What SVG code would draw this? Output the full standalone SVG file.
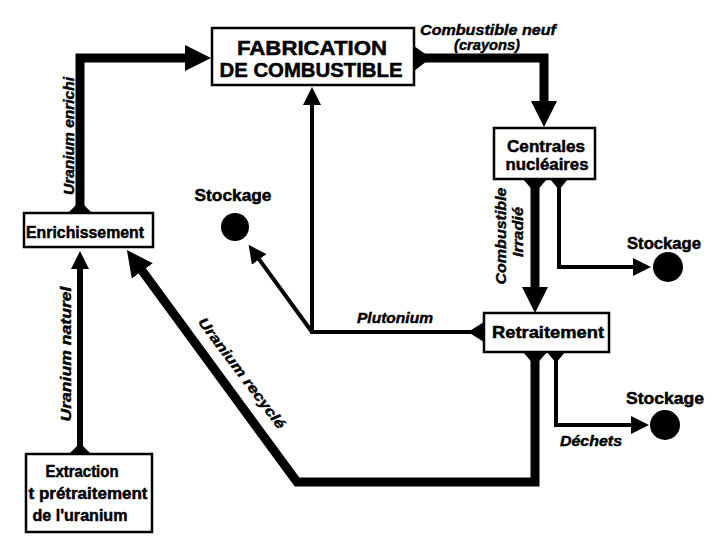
<svg xmlns="http://www.w3.org/2000/svg" width="712" height="539" viewBox="0 0 712 539">
<style>
.bx{fill:#fff;stroke:#000;stroke-width:2.5}
.ln{fill:none;stroke:#000;stroke-linejoin:miter}
.thick{stroke-width:9}
.mid{stroke-width:6}
.thin{stroke-width:4}
.fl{fill:#000}
.t{font-family:"Liberation Sans",Arial,sans-serif;font-weight:bold;fill:#000;stroke:#000;stroke-width:0.5}
.big{font-size:20px}
.nd{font-size:17px}
.lb{font-family:"Liberation Sans",Arial,sans-serif;font-weight:bold;font-style:italic;font-size:14px;fill:#000;stroke:#000;stroke-width:0.4}
.dot{fill:#000}
</style>
<defs>
<marker id="ab" viewBox="0 0 26 26" markerWidth="26" markerHeight="26" refX="1" refY="13" orient="auto" markerUnits="userSpaceOnUse"><path d="M0,0 L26,13 L0,26 z" fill="#000"/></marker>
<marker id="as" viewBox="0 0 18 18" markerWidth="18" markerHeight="18" refX="1" refY="9" orient="auto" markerUnits="userSpaceOnUse"><path d="M0,0 L18,9 L0,18 z" fill="#000"/></marker>
</defs>
<rect width="712" height="539" fill="#fff"/>
<g id="connectors">
<path class="ln thick" d="M80,213 V58 H186" marker-end="url(#ab)"/>
<path class="ln mid" d="M80,454 V268" marker-end="url(#as)"/>
<path class="ln thick" d="M414,58 H544 V102" marker-end="url(#ab)"/>
<path class="ln thick" d="M535,179 V288" marker-end="url(#ab)"/>
<path class="ln thin" d="M559,179 V267 H634" marker-end="url(#as)"/>
<path class="ln thin" d="M484,332 H312 V104" marker-end="url(#as)"/>
<path class="ln thin" d="M312,332 L258.6,258.6" marker-end="url(#as)"/>
<path class="ln thick" d="M535,352 V482 H297 L141.7,270.2" marker-end="url(#ab)"/>
<path class="ln thin" d="M556,352 V425 H632" marker-end="url(#as)"/>
<polygon class="fl" points="68,213 92,213 80,201"/>
<polygon class="fl" points="69,454 91,454 80,443"/>
<polygon class="fl" points="414,46 414,71 431,58"/>
<polygon class="fl" points="523,179 547,179 535,193"/>
<polygon class="fl" points="550,179 568,179 559,190"/>
<polygon class="fl" points="484,322 484,342 468,332"/>
<polygon class="fl" points="523,352 547,352 535,366"/>
<polygon class="fl" points="547,352 565,352 556,363"/>
<text class="lb" transform="translate(74,136) rotate(-90)" text-anchor="middle" textLength="118" lengthAdjust="spacingAndGlyphs">Uranium enrichi</text>
<text class="lb" transform="translate(71,354) rotate(-90)" text-anchor="middle" textLength="135" lengthAdjust="spacingAndGlyphs">Uranium naturel</text>
<text class="lb" x="488" y="35" text-anchor="middle" textLength="136" lengthAdjust="spacingAndGlyphs">Combustible neuf</text>
<text class="lb" x="487" y="50" text-anchor="middle" textLength="66" lengthAdjust="spacingAndGlyphs">(crayons)</text>
<text class="lb" transform="translate(506,236) rotate(-90)" text-anchor="middle" textLength="97" lengthAdjust="spacingAndGlyphs">Combustible</text>
<text class="lb" transform="translate(523,232) rotate(-90)" text-anchor="middle" textLength="50" lengthAdjust="spacingAndGlyphs">Irradié</text>
<text class="lb" x="395" y="323" text-anchor="middle" textLength="76" lengthAdjust="spacingAndGlyphs">Plutonium</text>
<text class="lb" transform="translate(238,376) rotate(53)" text-anchor="middle" textLength="135" lengthAdjust="spacingAndGlyphs">Uranium recyclé</text>
<text class="lb" x="591" y="446" text-anchor="middle" textLength="62" lengthAdjust="spacingAndGlyphs">Déchets</text>
</g>
<g id="fabrication">
<rect class="bx" x="212" y="28" width="202" height="57"/>
<text class="t big" x="312" y="55" text-anchor="middle" textLength="150" lengthAdjust="spacingAndGlyphs">FABRICATION</text>
<text class="t big" x="311" y="77" text-anchor="middle" textLength="183" lengthAdjust="spacingAndGlyphs">DE COMBUSTIBLE</text>
</g>
<g id="centrales">
<rect class="bx" x="494" y="128" width="101" height="51"/>
<text class="t nd" x="546" y="152" text-anchor="middle" textLength="78" lengthAdjust="spacingAndGlyphs">Centrales</text>
<text class="t nd" x="547" y="170" text-anchor="middle" textLength="83" lengthAdjust="spacingAndGlyphs">nucléaires</text>
</g>
<g id="retraitement">
<rect class="bx" x="484" y="313" width="125" height="39"/>
<text class="t nd" x="548" y="338" text-anchor="middle" textLength="112" lengthAdjust="spacingAndGlyphs">Retraitement</text>
</g>
<g id="enrichissement">
<rect class="bx" x="24" y="213" width="129" height="34"/>
<text class="t nd" x="85" y="238" text-anchor="middle" textLength="118" lengthAdjust="spacingAndGlyphs">Enrichissement</text>
</g>
<g id="extraction">
<rect class="bx" x="26" y="454" width="126" height="78"/>
<text class="t nd" x="82" y="477" text-anchor="middle" textLength="73" lengthAdjust="spacingAndGlyphs">Extraction</text>
<text class="t nd" x="88" y="499" text-anchor="middle" textLength="119" lengthAdjust="spacingAndGlyphs">t prétraitement</text>
<text class="t nd" x="80" y="521" text-anchor="middle" textLength="95" lengthAdjust="spacingAndGlyphs">de l'uranium</text>
</g>
<g id="stockage-gauche">
<text class="t nd" x="233" y="201" text-anchor="middle" textLength="77" lengthAdjust="spacingAndGlyphs">Stockage</text>
<circle class="dot" cx="235" cy="227" r="14"/>
</g>
<g id="stockage-centrales">
<text class="t nd" x="664" y="249" text-anchor="middle" textLength="74" lengthAdjust="spacingAndGlyphs">Stockage</text>
<circle class="dot" cx="668" cy="267" r="15"/>
</g>
<g id="stockage-dechets">
<text class="t nd" x="665" y="404" text-anchor="middle" textLength="78" lengthAdjust="spacingAndGlyphs">Stockage</text>
<circle class="dot" cx="665" cy="425" r="15"/>
</g>
</svg>
